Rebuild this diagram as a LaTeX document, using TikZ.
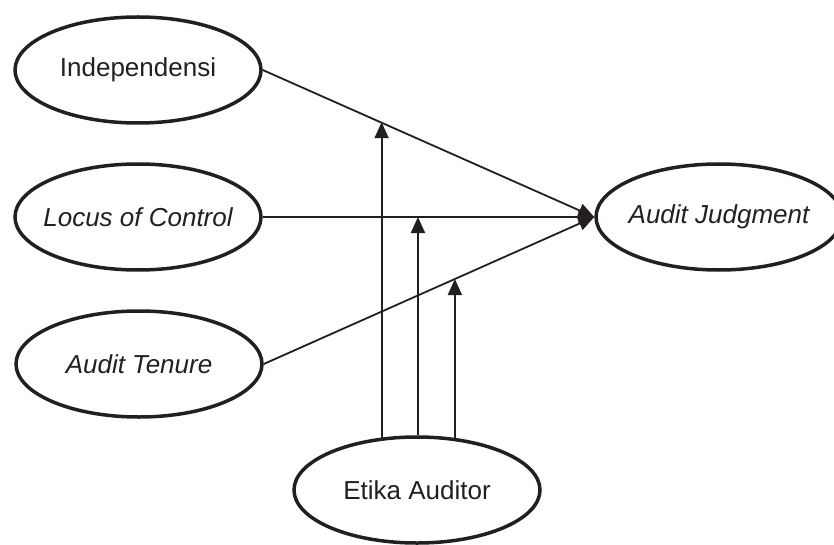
\documentclass[tikz,border=0pt]{standalone}
\usepackage{fontspec}
\setmainfont{Liberation Sans}
\usetikzlibrary{calc,shapes.geometric,arrows.meta}
\definecolor{ink}{HTML}{231F20}

\begin{document}
\begin{tikzpicture}[x=1pt,y=-1pt,
	var/.style={draw=ink,ellipse,line width=3.5pt,minimum width=246pt,minimum height=106pt,inner sep=0pt},
	lbl/.style={text=ink,font=\fontsize{26}{30}\selectfont},
	arr/.style={draw=ink,line width=1.8pt,-{Triangle[length=16pt,width=14pt]}}]
	\useasboundingbox (0,0) rectangle (834,545);
	\node[var] (ind) at (138,70) {}; %X1
	\node[var] (loc) at (138,217) {}; %X2
	\node[var] (ten) at (139,364) {}; %X3
	\node[var] (jud) at (719,217) {}; %Y
	\node[var] (eti) at (417,490) {}; %Z
	\node[lbl] (ind-t) at (ind) {Independensi};
	\node[lbl] (loc-t) at (loc) {\itshape Locus of Control};
	\node[lbl] (ten-t) at (ten) {\itshape Audit Tenure};
	\node[lbl] (jud-t) at (jud) {\itshape Audit Judgment};
	\node[lbl] (eti-t) at (eti) {Etika Auditor};
	\foreach \v in {ind,loc,ten}{ %X->Y
		\draw[arr] (\v.east) -- (jud.west);
	}
	\coordinate (m1) at ($(ind.east)!0.355!(jud.west)$); %moderasi
	\coordinate (m2) at ($(loc.east)!0.467!(jud.west)$);
	\coordinate (m3) at ($(ten.east)!0.578!(jud.west)$);
	\draw[arr] (eti.124.5) -- (eti.124.5 |- m1);
	\draw[arr] (eti.89) -- (eti.89 |- m2);
	\draw[arr] (eti.54) -- (eti.54 |- m3);
\end{tikzpicture}
\end{document}
